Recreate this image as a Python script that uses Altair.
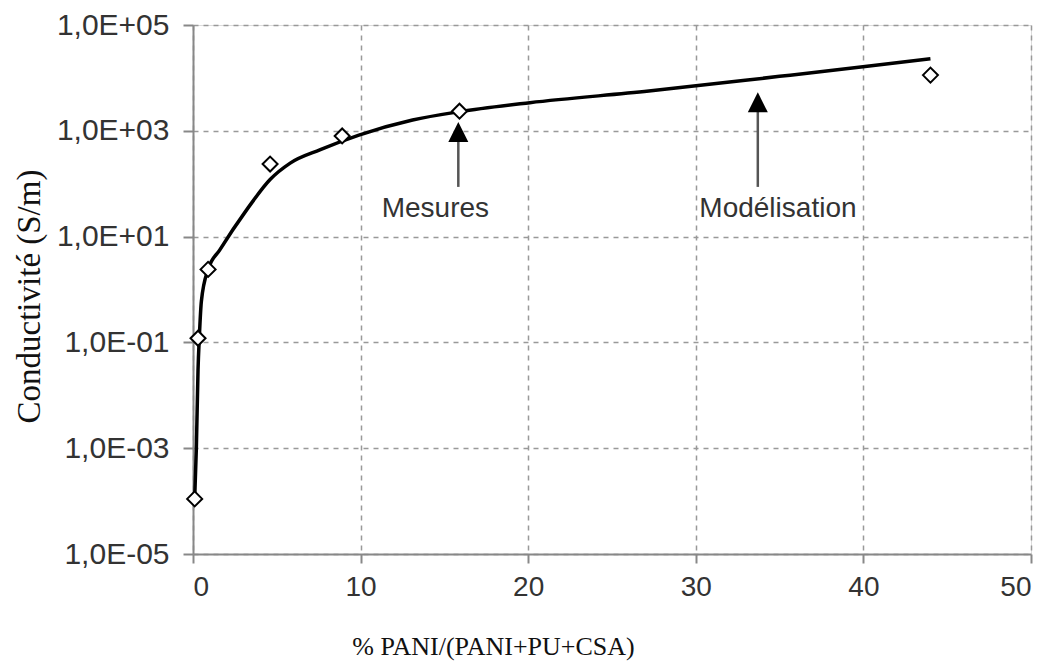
import altair as alt
import pandas as pd

# Modelled curve (Modélisation)
curve_x = [0.1, 0.2, 0.3, 0.38, 0.5, 0.9, 1.6, 3.2, 4.6, 5.8, 7.6, 9.9, 13.1, 15.9, 20.1, 27.2, 35.0, 40.1, 44.0]
curve_y = [1.1e-4, 1e-3, 3e-2, 0.13, 0.6, 2.4, 5.6, 32, 120, 245, 440, 830, 1600, 2300, 3400, 5640, 10700, 16400, 23000]

# Measurements (Mesures)
meas_x = [0.1, 0.3, 0.9, 4.6, 8.9, 15.9, 44.0]
meas_y = [1.1e-4, 0.12, 2.4, 235, 800, 2350, 11300]

# Annotations
ann_text = ["Mesures", "Modélisation"]
ann_text_x = [14.46, 34.9]
ann_text_y = [23.4, 23.4]
arrow_x = [15.83, 33.7]
arrow_y_start = [87, 87]
arrow_y_end = [700, 2500]
arrow_head_y = [950, 3450]

# Axes
x_ticks = [0, 10, 20, 30, 40, 50]
y_tick_values = [1e-5, 1e-3, 1e-1, 1e1, 1e3, 1e5]
y_tick_labels = ["1,0E-05", "1,0E-03", "1,0E-01", "1,0E+01", "1,0E+03", "1,0E+05"]

label_expr = ""
for v, l in zip(y_tick_values, y_tick_labels):
    label_expr += f"abs(datum.value / {v} - 1) < 0.001 ? '{l}' : "
label_expr += "''"

curve_df = pd.DataFrame({"x": curve_x, "y": curve_y})
meas_df = pd.DataFrame({"x": meas_x, "y": meas_y})
text_df = pd.DataFrame({"label": ann_text, "x": ann_text_x, "y": ann_text_y})
arrow_df = pd.DataFrame({"x": arrow_x, "y1": arrow_y_start, "y2": arrow_y_end, "yh": arrow_head_y})

xscale = alt.Scale(domain=[0, 50], nice=False, zero=False)
yscale = alt.Scale(type="log", domain=[1e-5, 1e5], nice=False)

xaxis = alt.Axis(
    values=x_ticks, grid=True, gridDash=[5, 5], gridColor="#999", gridWidth=1.5,
    domainColor="#888", domainWidth=2, tickColor="#888", tickSize=9, tickWidth=2,
    labelFont="Liberation Sans", labelFontSize=28, labelColor="#333", labelPadding=10,
    title="% PANI/(PANI+PU+CSA)", titleFont="Liberation Serif", titleFontSize=26,
    titleFontWeight="normal", titleColor="#111", titleX=300, titleY=100,
    titleAlign="center", titleBaseline="alphabetic", format="d",
)
yaxis = alt.Axis(
    values=y_tick_values, grid=True, gridDash=[5, 5], gridColor="#999", gridWidth=1.5,
    domainColor="#888", domainWidth=2, tickColor="#888", tickSize=10, tickWidth=2,
    labelFont="Liberation Sans", labelFontSize=30, labelColor="#333", labelPadding=14,
    labelExpr=label_expr,
    title="Conductivité (S/m)", titleFont="Liberation Serif", titleFontSize=33,
    titleFontWeight="normal", titleColor="#111", titleX=-164, titleY=271,
    titleAngle=270, titleAlign="center", titleBaseline="middle",
)

line = alt.Chart(curve_df).mark_line(color="black", strokeWidth=3.5, interpolate="monotone").encode(
    x=alt.X("x:Q", scale=xscale, axis=xaxis),
    y=alt.Y("y:Q", scale=yscale, axis=yaxis),
)
points = alt.Chart(meas_df).mark_point(
    shape="diamond", size=225, filled=True, fill="white", stroke="black", strokeWidth=2, opacity=1
).encode(x="x:Q", y="y:Q")

shafts = alt.Chart(arrow_df).mark_rule(color="#555", strokeWidth=2.5).encode(
    x="x:Q", y="y1:Q", y2="y2:Q"
)
heads = alt.Chart(arrow_df).mark_point(
    shape="M-1,1L1,1L0,-1Z", size=400, filled=True, color="black", opacity=1
).encode(x="x:Q", y="yh:Q")

texts = alt.Chart(text_df).mark_text(
    font="Liberation Sans", fontSize=28, color="#333", align="center", baseline="alphabetic"
).encode(x="x:Q", y="y:Q", text="label:N")

chart = alt.layer(line, points, shafts, heads, texts).properties(
    width=838, height=529,
    padding={"left": 185, "top": 17, "right": 21, "bottom": 108},
    autosize=alt.AutoSizeParams(type="none"),
).configure_view(stroke=None).configure(background="white")

chart.save("out.html", embed_options={"renderer": "svg", "actions": False})
